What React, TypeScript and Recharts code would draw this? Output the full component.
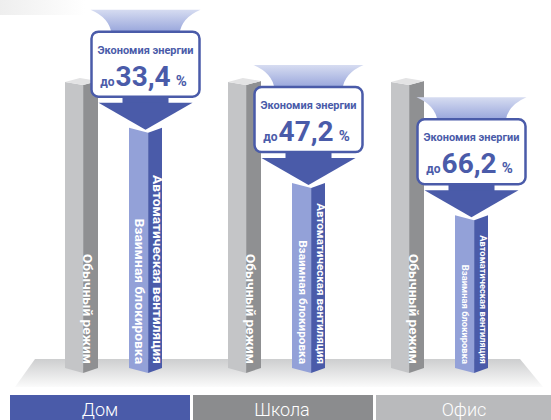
import React from "react";
import { BarChart, Bar, XAxis, YAxis } from "recharts";

const categories = ["Дом", "Школа", "Офис"];
const normalMode = [100, 100, 100];
const autoVent = [83, 64, 53];
const savings = ["33,4", "47,2", "66,2"];
const bandColors = ["#4a5ba9", "#8b8c8e", "#b9babc"];

const data = categories.map((name, i) => ({
  name,
  normal: normalMode[i],
  auto: autoVent[i],
  saving: savings[i],
}));

const BLUE = "#4a5ba9";
const BLUE_LIGHT = "#93a1d8";
const GRAY = "#c4c5c7";
const GRAY_DARK = "#8f9092";
const FONT = "Roboto, 'DejaVu Sans', sans-serif";

const GrayBar = (props: any) => {
  const { x, y, width, height } = props;
  const x1 = x + width;
  const xm = x + width * 0.55;
  const base = y + height;
  return (
    <g>
      <polygon points={`${x},${y + 4} ${xm},${y + 7} ${xm},${base + 3} ${x},${base - 2}`} fill={GRAY} />
      <polygon points={`${xm},${y + 7} ${x1},${y + 3} ${x1},${base - 2} ${xm},${base + 3}`} fill={GRAY_DARK} />
      <polygon points={`${x},${y + 4} ${x + width * 0.45},${y} ${x1},${y + 3} ${xm},${y + 7}`} fill="#e3e3e4" />
      <text
        transform={`translate(${x + 22},${base - 6}) rotate(90)`}
        textAnchor="end"
        dominantBaseline="central"
        fill="#fff"
        fontFamily={FONT}
        fontWeight={700}
        fontSize={12}
        textLength={110}
        lengthAdjust="spacingAndGlyphs"
      >
        Обычный режим
      </text>
    </g>
  );
};

const BlueBar = (props: any) => {
  const { x, y, width, height, payload } = props;
  const x1 = x + width;
  const xm = x + width * 0.58;
  const cx = x + width / 2;
  const base = y + height;
  const len = Math.min(189, height - 26);
  const fs = 12 * (len / 189);
  const len2 = len * 0.77;

  // callout above the bar
  const boxB = y - 31;
  const boxT = y - 96;
  const funT = boxT - 22;
  return (
    <g>
      <defs>
        <linearGradient id="funnelGrad" x1="0" y1="0" x2="0" y2="1">
          <stop offset="0%" stopColor="#d6dcf1" />
          <stop offset="100%" stopColor="#94a2da" />
        </linearGradient>
      </defs>
      <polygon points={`${x},${y} ${xm},${y + 5} ${xm},${base + 3} ${x},${base - 2}`} fill={BLUE_LIGHT} />
      <polygon points={`${xm},${y + 5} ${x1},${y} ${x1},${base - 2} ${xm},${base + 3}`} fill={BLUE} />
      <text
        transform={`translate(${x + 28},${base - 6}) rotate(90)`}
        textAnchor="end"
        dominantBaseline="central"
        fill="#fff"
        fontFamily={FONT}
        fontWeight={700}
        fontSize={fs}
        textLength={len}
        lengthAdjust="spacingAndGlyphs"
      >
        Автоматическая вентиляция
      </text>
      <text
        transform={`translate(${x + 10},${base - 6}) rotate(90)`}
        textAnchor="end"
        dominantBaseline="central"
        fill="#fff"
        fontFamily={FONT}
        fontWeight={700}
        fontSize={fs}
        textLength={len2}
        lengthAdjust="spacingAndGlyphs"
      >
        Взаимная блокировка
      </text>

      <path
        d={`M${cx - 55},${funT} L${cx + 55},${funT} Q${cx + 36},${funT + 8} ${cx + 34},${boxT + 2} L${cx - 34},${boxT + 2} Q${cx - 36},${funT + 8} ${cx - 55},${funT} Z`}
        fill="url(#funnelGrad)"
      />
      <rect x={cx - 23} y={boxB - 2} width={46} height={9} fill={BLUE} />
      <polygon points={`${cx - 47},${y - 25} ${cx + 47},${y - 25} ${cx},${y + 2}`} fill={BLUE} />
      <rect x={cx - 54} y={boxT} width={108} height={65} rx={7} fill="#fff" stroke={BLUE} strokeWidth={2.5} />
      <text
        x={cx}
        y={boxT + 22}
        textAnchor="middle"
        fill={BLUE}
        fontFamily={FONT}
        fontWeight={700}
        fontSize={11.5}
        textLength={96}
        lengthAdjust="spacingAndGlyphs"
      >
        Экономия энергии
      </text>
      <text x={cx - 2} y={boxT + 54} textAnchor="middle" fill={BLUE} fontFamily={FONT} fontWeight={700}>
        <tspan fontSize={12}>до</tspan>
        <tspan fontSize={28} dx={1}>{payload.saving}</tspan>
        <tspan fontSize={15} dx={5}>%</tspan>
      </text>
    </g>
  );
};

const Background = () => (
  <svg width={551} height={420} style={{ position: "absolute", left: 0, top: 0 }}>
    <defs>
      <linearGradient id="platGrad" x1="0" y1="0" x2="0" y2="1">
        <stop offset="0%" stopColor="#cdcecf" />
        <stop offset="100%" stopColor="#fbfbfb" />
      </linearGradient>
      <linearGradient id="smudge" x1="0" y1="0" x2="1" y2="0">
        <stop offset="0%" stopColor="#eeeeee" />
        <stop offset="100%" stopColor="#ffffff" />
      </linearGradient>
    </defs>
    <rect x={0} y={0} width={85} height={15} fill="url(#smudge)" />
    <polygon points="35,359 520,359 543,387 15,387" fill="url(#platGrad)" />
    {categories.map((c, i) => (
      <g key={c}>
        <rect x={10 + i * 183} y={395} width={i === 2 ? 175 : 180} height={25} fill={bandColors[i]} />
        <text
          x={100 + i * 182}
          y={416}
          textAnchor="middle"
          fill="#fff"
          fontFamily={FONT}
          fontWeight={300}
          fontSize={18}
        >
          {c}
        </text>
      </g>
    ))}
  </svg>
);

export default function App() {
  return (
    <div style={{ position: "absolute", left: 0, top: 0, width: 551, height: 420, background: "#fff" }}>
      <Background />
      <div style={{ position: "absolute", left: 0, top: 0 }}>
        <BarChart
          width={551}
          height={420}
          data={data}
          margin={{ top: 78, right: 30, bottom: 50, left: 32 }}
          barSize={33}
          barGap={31}
        >
          <XAxis dataKey="name" hide />
          <YAxis domain={[0, 100]} hide />
          <Bar dataKey="normal" shape={<GrayBar />} isAnimationActive={false} />
          <Bar dataKey="auto" shape={<BlueBar />} isAnimationActive={false} />
        </BarChart>
      </div>
    </div>
  );
}
